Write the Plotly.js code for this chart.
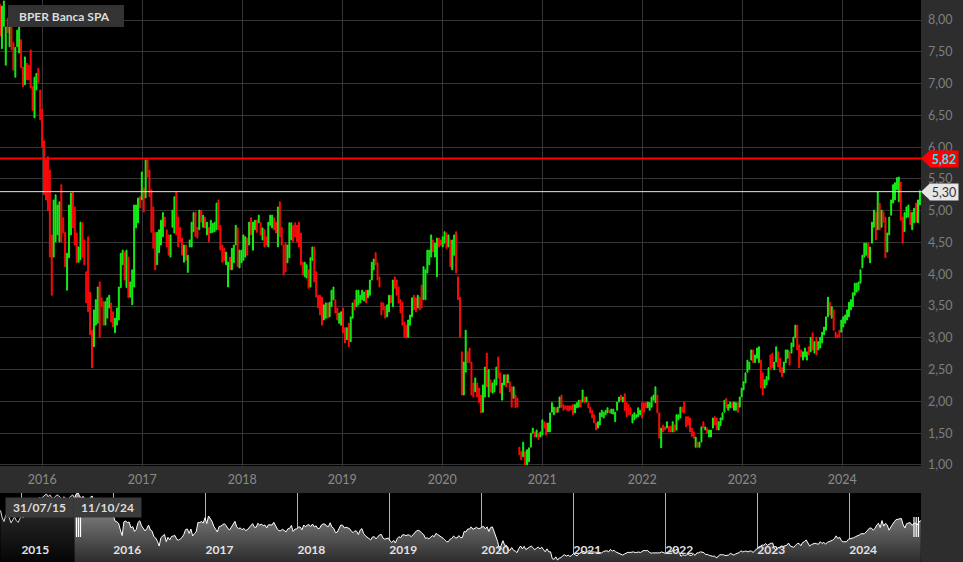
<!DOCTYPE html>
<html><head><meta charset="utf-8">
<script src="https://cdn.plot.ly/plotly-3.0.1.min.js"></script>
<style>html,body{margin:0;padding:0;background:#2d2d2d;overflow:hidden}#chart{width:963px;height:562px}</style>
</head><body><div id="chart"></div>
<script>
const chartTitle = 'BPER Banca SPA';
const firstWeek = '2015-07-31';
const open = [
8.25,7.55,7.90,7.29,8.03,7.58,7.89,7.65,7.10,7.58,
7.48,7.69,7.26,6.98,7.32,7.29,7.53,6.95,6.46,6.90,
7.24,6.90,6.60,6.10,5.80,5.85,5.64,4.62,4.27,4.51,
4.62,4.51,5.41,4.89,4.66,3.75,4.26,4.62,5.30,5.06,
4.65,4.19,4.23,4.81,4.54,4.04,4.59,3.72,3.12,2.86,
3.20,3.23,3.88,3.63,3.57,3.20,3.31,3.47,3.55,3.41,
3.08,3.20,3.28,3.79,4.15,4.35,3.79,4.27,3.64,3.52,
3.80,4.73,4.81,5.22,5.17,5.36,5.20,5.80,5.64,5.33,
5.06,4.66,4.15,4.34,4.46,4.59,4.90,4.70,4.62,4.27,
4.74,4.65,5.30,4.90,4.74,4.57,4.19,4.46,4.03,4.43,
4.43,4.67,4.98,4.74,4.70,5.01,4.74,4.90,4.62,4.74,
4.65,4.66,4.67,4.70,5.17,4.77,4.46,4.41,4.15,3.80,
4.27,4.07,4.18,4.46,4.73,4.10,4.18,4.22,4.27,4.57,
4.46,4.89,4.38,4.70,4.85,4.81,4.81,4.54,4.70,4.59,
4.43,4.77,4.73,4.89,4.82,4.43,5.14,4.74,4.46,4.49,
4.18,4.26,4.54,4.77,4.81,4.77,4.82,4.65,4.19,3.96,
3.94,4.07,3.80,4.22,4.43,4.04,3.67,
3.67,3.64,3.28,3.31,3.55,3.33,3.49,3.60,3.60,3.47,
3.23,3.20,3.47,3.16,2.97,3.23,2.94,3.31,3.60,3.49,
3.52,3.55,3.60,3.58,3.75,3.63,3.67,3.91,4.07,4.34,
4.18,3.96,3.56,3.55,3.49,3.33,3.41,3.67,3.49,3.96,
3.91,3.80,3.60,3.56,3.25,3.20,3.01,3.20,3.33,3.67,
3.63,3.47,3.64,3.83,3.60,3.60,4.02,4.15,4.27,4.54,
4.27,3.96,4.57,4.54,4.43,4.49,4.65,4.43,4.54,4.07,
4.30,4.67,3.96,3.64,
2.78,2.10,2.46,2.78,2.84,2.62,2.29,2.15,2.29,2.21,
2.10,1.83,2.07,2.76,2.07,2.34,2.13,2.15,2.26,2.70,
2.45,2.02,2.26,2.42,2.29,2.31,2.23,2.05,2.10,2.05,
1.28,1.21,1.13,1.21,1.00,1.05,1.28,1.50,1.52,1.44,
1.50,1.44,1.47,1.68,1.66,1.52,1.52,1.83,1.79,1.90,
1.83,1.90,2.10,1.95,1.93,1.93,1.93,1.93,1.95,1.82,
1.90,1.91,2.02,1.99,2.07,1.99,1.98,1.91,1.86,1.79,
1.66,1.58,1.63,1.76,1.74,1.79,1.82,1.86,1.81,1.80,
1.68,1.86,1.99,2.10,1.99,2.12,1.98,1.95,1.90,1.66,
1.71,1.74,1.76,1.79,1.98,1.98,1.98,1.90,1.86,1.91,
2.02,1.98,2.10,1.82,1.27,1.63,1.60,1.58,1.61,1.61,
1.52,1.63,1.55,1.71,1.74,1.91,1.99,1.76,1.76,1.74,
1.58,1.52,1.28,1.36,1.28,1.36,1.68,1.55,1.58,1.44,
1.44,1.58,1.76,1.74,1.55,1.62,
1.71,1.83,2.05,1.86,1.90,1.98,1.86,1.86,1.98,1.91,
2.07,2.18,2.29,2.46,2.50,2.65,2.81,2.61,2.68,2.61,
2.65,2.45,2.21,2.26,2.34,2.73,2.76,2.50,2.62,2.78,
2.68,2.53,2.45,2.61,2.68,2.78,2.76,2.86,3.00,3.20,
2.89,2.81,2.65,2.70,2.65,2.86,2.78,3.08,2.76,3.01,
2.81,2.84,2.92,3.05,3.12,3.33,3.56,3.31,3.44,3.09,
3.05,3.12,3.09,3.17,3.23,3.28,3.33,3.44,3.49,3.67,
3.72,3.75,3.86,4.10,4.27,4.30,4.49,4.18,4.49,4.74,
4.98,4.70,5.12,4.74,4.98,4.90,4.35,4.62,4.93,5.12,
5.17,5.33,5.14,5.45,4.90,4.67,4.89,4.90,4.98,4.70,
4.81,5.12,4.81,5.09];
const high = [
8.25,8.22,8.30,7.89,8.03,7.92,7.89,7.65,7.57,7.84,
7.97,7.69,7.26,7.42,7.32,7.29,7.53,6.95,7.10,7.16,
7.24,6.90,6.60,6.10,5.80,5.85,5.64,4.62,5.17,5.25,
5.09,5.14,5.41,4.89,4.66,4.33,5.09,5.28,5.30,5.06,
4.65,4.43,4.82,4.81,4.54,4.04,4.59,3.72,3.12,3.44,
3.60,3.80,3.88,3.63,3.57,3.57,3.63,3.67,3.55,3.41,
3.31,3.47,3.80,4.33,4.38,4.35,4.38,4.27,3.88,4.07,
5.09,5.09,5.20,5.22,5.61,5.36,5.80,5.80,5.64,5.33,
5.06,4.66,4.66,4.70,4.85,4.97,4.90,4.70,4.62,4.62,
5.01,5.22,5.30,4.90,4.74,4.57,4.46,4.46,4.30,4.54,
4.82,4.97,4.98,4.74,5.01,5.01,4.93,4.90,4.82,4.74,
4.85,4.80,4.82,5.12,5.17,4.77,4.46,4.41,4.35,4.19,
4.27,4.41,4.46,4.77,4.73,4.38,4.38,4.62,4.59,4.57,
4.82,4.89,4.82,4.85,4.85,4.93,4.81,4.73,4.70,4.59,
4.82,4.93,4.93,4.89,4.82,5.06,5.14,4.74,4.46,4.49,
4.46,4.81,4.81,4.77,4.81,4.77,4.82,4.65,4.19,4.19,
4.15,4.07,4.26,4.43,4.43,4.04,3.67,
3.67,3.64,3.52,3.55,3.55,3.56,3.75,3.80,3.60,3.47,
3.39,3.41,3.47,3.16,3.16,3.23,3.33,3.55,3.60,3.75,
3.75,3.67,3.75,3.72,3.75,3.75,3.91,4.19,4.24,4.34,
4.18,3.96,3.56,3.55,3.49,3.52,3.67,3.67,3.91,3.96,
3.91,3.80,3.60,3.56,3.25,3.20,3.28,3.36,3.63,3.67,
3.63,3.67,3.64,3.83,4.12,4.07,4.38,4.38,4.62,4.54,
4.49,4.57,4.57,4.54,4.59,4.67,4.65,4.62,4.54,4.54,
4.62,4.67,3.96,3.64,
2.78,2.62,3.12,2.78,2.84,2.62,2.29,2.37,2.29,2.21,
2.10,2.26,2.54,2.76,2.50,2.34,2.29,2.34,2.54,2.70,
2.45,2.29,2.42,2.42,2.42,2.31,2.23,2.23,2.10,2.05,
1.28,1.21,1.36,1.21,1.24,1.27,1.50,1.58,1.52,1.55,
1.50,1.52,1.71,1.68,1.66,1.66,1.82,1.98,1.91,1.90,
1.91,2.07,2.10,1.95,1.93,1.93,1.93,1.93,1.95,1.95,
1.98,2.02,2.02,2.18,2.07,2.07,1.98,1.91,1.86,1.79,
1.66,1.68,1.82,1.86,1.83,1.86,1.90,1.86,1.88,1.88,
1.83,1.99,2.07,2.10,2.07,2.12,1.98,1.95,1.90,1.79,
1.82,1.79,1.90,1.86,1.98,1.98,1.98,1.99,1.98,2.07,
2.10,2.23,2.10,1.82,1.58,1.63,1.60,1.68,1.61,1.61,
1.68,1.63,1.79,1.79,1.91,1.91,1.99,1.76,1.76,1.74,
1.58,1.52,1.44,1.36,1.36,1.60,1.68,1.60,1.58,1.55,
1.55,1.74,1.76,1.74,1.68,1.74,
1.82,2.02,2.05,1.95,1.99,1.98,1.99,1.98,1.98,2.07,
2.21,2.31,2.45,2.65,2.62,2.81,2.81,2.73,2.84,2.86,
2.65,2.45,2.34,2.39,2.53,2.73,2.76,2.62,2.86,2.78,
2.68,2.53,2.62,2.81,2.81,2.78,2.92,3.01,3.20,3.20,
2.89,2.81,2.78,2.84,2.78,2.86,3.01,3.08,2.94,3.01,
2.94,3.01,3.09,3.17,3.33,3.64,3.56,3.49,3.44,3.09,
3.05,3.12,3.28,3.33,3.36,3.44,3.56,3.60,3.71,3.86,
3.86,3.88,4.07,4.30,4.49,4.49,4.49,4.43,4.82,5.01,
4.98,5.30,5.12,5.01,4.98,4.90,4.65,4.90,5.17,5.41,
5.44,5.52,5.53,5.45,4.90,4.97,5.06,5.09,4.98,4.97,
5.04,5.12,5.17,5.33];
const low = [
7.75,7.55,7.90,7.29,7.80,7.58,7.53,7.21,7.10,7.58,
7.48,7.25,6.95,6.98,7.06,7.06,6.93,6.58,6.46,6.90,
7.02,6.43,6.00,5.25,5.17,5.00,4.27,3.67,4.27,4.51,
4.62,4.51,4.51,4.65,4.12,3.75,4.26,4.62,4.73,4.46,
4.18,4.19,4.23,4.27,4.15,3.55,3.41,3.05,2.53,2.86,
3.20,3.23,3.01,3.49,3.20,3.20,3.31,3.47,3.25,3.17,
3.08,3.20,3.28,3.79,4.15,3.91,3.79,3.63,3.64,3.52,
3.80,4.73,4.81,5.04,5.17,4.98,5.20,5.53,5.22,4.66,
4.41,4.07,4.15,4.34,4.46,4.59,4.75,4.43,4.30,4.27,
4.74,4.65,4.62,4.43,4.51,4.30,4.19,4.22,4.03,4.43,
4.43,4.67,4.59,4.57,4.70,4.82,4.74,4.73,4.62,4.51,
4.65,4.66,4.67,4.70,4.70,4.38,4.19,4.22,4.15,3.80,
4.07,4.07,4.18,4.46,4.12,4.10,4.18,4.22,4.27,4.30,
4.46,4.62,4.38,4.70,4.66,4.81,4.62,4.54,4.43,4.46,
4.43,4.77,4.73,4.70,4.65,4.43,4.59,4.46,3.99,4.04,
4.18,4.26,4.54,4.51,4.59,4.51,4.43,4.15,3.99,3.96,
3.94,3.78,3.80,4.22,3.88,3.64,3.47,
3.36,3.20,3.28,3.31,3.31,3.33,3.49,3.60,3.39,3.28,
3.23,3.20,3.08,2.92,2.97,2.86,2.94,3.31,3.44,3.49,
3.52,3.55,3.60,3.58,3.55,3.63,3.67,3.91,4.07,4.15,
3.91,3.80,3.36,3.44,3.31,3.33,3.41,3.55,3.49,3.78,
3.67,3.55,3.39,3.20,3.01,3.00,3.01,3.20,3.33,3.44,
3.41,3.47,3.44,3.47,3.60,3.60,4.02,4.15,4.27,4.35,
4.27,3.96,4.43,4.46,4.43,4.49,4.41,4.43,4.12,4.07,
4.30,4.02,3.60,3.01,
2.10,2.10,2.46,2.61,2.61,2.10,2.07,2.15,2.07,1.98,
1.82,1.83,2.07,2.23,2.07,2.15,2.13,2.15,2.26,2.37,
2.13,2.02,2.26,2.23,2.29,2.15,1.91,2.05,1.90,1.91,
1.16,1.08,1.13,1.00,1.00,1.05,1.28,1.50,1.44,1.44,
1.40,1.44,1.47,1.58,1.47,1.52,1.52,1.83,1.79,1.82,
1.83,1.90,1.91,1.86,1.88,1.86,1.85,1.87,1.79,1.82,
1.90,1.91,1.91,1.99,1.98,1.99,1.90,1.82,1.74,1.66,
1.55,1.58,1.63,1.76,1.74,1.79,1.82,1.82,1.81,1.80,
1.68,1.86,1.99,2.02,1.99,1.86,1.76,1.79,1.79,1.66,
1.71,1.74,1.76,1.79,1.74,1.83,1.90,1.90,1.86,1.91,
2.02,1.98,1.82,1.42,1.27,1.52,1.55,1.58,1.52,1.52,
1.52,1.52,1.55,1.71,1.74,1.83,1.82,1.60,1.63,1.52,
1.45,1.42,1.28,1.27,1.28,1.36,1.58,1.55,1.50,1.44,
1.44,1.58,1.63,1.55,1.55,1.62,
1.71,1.83,1.90,1.86,1.90,1.90,1.86,1.86,1.83,1.91,
2.07,2.18,2.29,2.46,2.50,2.65,2.61,2.61,2.68,2.61,
2.21,2.10,2.21,2.26,2.34,2.50,2.53,2.50,2.62,2.54,
2.46,2.39,2.45,2.61,2.68,2.57,2.76,2.86,3.00,2.81,
2.53,2.70,2.65,2.70,2.65,2.73,2.78,2.81,2.76,2.73,
2.81,2.84,2.92,3.05,3.12,3.33,3.36,3.31,3.12,3.00,
3.00,3.01,3.09,3.17,3.23,3.28,3.33,3.44,3.49,3.67,
3.72,3.75,3.86,4.10,4.27,4.30,4.26,4.18,4.49,4.74,
4.54,4.70,4.70,4.74,4.82,4.26,4.35,4.62,4.93,5.12,
5.17,5.33,5.14,4.85,4.49,4.67,4.89,4.90,4.78,4.70,
4.81,4.82,4.81,5.09];
const close = [
7.75,8.22,8.30,7.89,7.80,7.92,7.53,7.21,7.57,7.84,
7.97,7.25,6.95,7.42,7.06,7.06,6.93,6.58,7.10,7.16,
7.02,6.43,6.00,5.25,5.17,5.00,4.27,3.67,5.17,5.25,
5.09,5.14,4.51,4.65,4.12,4.33,5.09,5.28,4.73,4.46,
4.18,4.43,4.82,4.27,4.15,3.55,3.41,3.05,2.53,3.44,
3.60,3.80,3.01,3.49,3.20,3.57,3.63,3.67,3.25,3.17,
3.31,3.47,3.80,4.33,4.38,3.91,4.38,3.63,3.88,4.07,
5.09,5.09,5.20,5.04,5.61,4.98,5.80,5.53,5.22,4.66,
4.41,4.07,4.66,4.70,4.85,4.97,4.75,4.43,4.30,4.62,
5.01,5.22,4.62,4.43,4.51,4.30,4.46,4.22,4.30,4.54,
4.82,4.97,4.59,4.57,5.01,4.82,4.93,4.73,4.82,4.51,
4.85,4.80,4.82,5.12,4.70,4.38,4.19,4.22,4.35,4.19,
4.07,4.41,4.46,4.77,4.12,4.38,4.38,4.62,4.59,4.30,
4.82,4.62,4.82,4.85,4.66,4.93,4.62,4.73,4.43,4.46,
4.82,4.93,4.93,4.70,4.65,5.06,4.59,4.46,3.99,4.04,
4.46,4.81,4.81,4.51,4.59,4.51,4.43,4.15,3.99,4.19,
4.15,3.78,4.26,4.43,3.88,3.64,3.47,
3.36,3.20,3.52,3.55,3.31,3.56,3.75,3.80,3.39,3.28,
3.39,3.41,3.08,2.92,3.16,2.86,3.33,3.55,3.44,3.75,
3.75,3.67,3.75,3.72,3.55,3.75,3.91,4.19,4.24,4.15,
3.91,3.80,3.36,3.44,3.31,3.52,3.67,3.55,3.91,3.78,
3.67,3.55,3.39,3.20,3.01,3.00,3.28,3.36,3.63,3.44,
3.41,3.67,3.44,3.47,4.12,4.07,4.38,4.38,4.62,4.35,
4.49,4.57,4.43,4.46,4.59,4.67,4.41,4.62,4.12,4.54,
4.62,4.02,3.60,3.01,
2.10,2.62,3.12,2.61,2.61,2.10,2.07,2.37,2.07,1.98,
1.82,2.26,2.54,2.23,2.50,2.15,2.29,2.34,2.54,2.37,
2.13,2.29,2.42,2.23,2.42,2.15,1.91,2.23,1.90,1.91,
1.16,1.08,1.36,1.00,1.24,1.27,1.50,1.58,1.44,1.55,
1.40,1.52,1.71,1.58,1.47,1.66,1.82,1.98,1.91,1.82,
1.91,2.07,1.91,1.86,1.88,1.86,1.85,1.87,1.79,1.95,
1.98,2.02,1.91,2.18,1.98,2.07,1.90,1.82,1.74,1.66,
1.55,1.68,1.82,1.86,1.83,1.86,1.90,1.82,1.88,1.88,
1.83,1.99,2.07,2.02,2.07,1.86,1.76,1.79,1.79,1.79,
1.82,1.79,1.90,1.86,1.74,1.83,1.90,1.99,1.98,2.07,
2.10,2.23,1.82,1.42,1.58,1.52,1.55,1.68,1.52,1.52,
1.68,1.52,1.79,1.79,1.91,1.83,1.82,1.60,1.63,1.52,
1.45,1.42,1.44,1.27,1.36,1.60,1.58,1.60,1.50,1.55,
1.55,1.74,1.63,1.55,1.68,1.74,
1.82,2.02,1.90,1.95,1.99,1.90,1.99,1.98,1.83,2.07,
2.21,2.31,2.45,2.65,2.62,2.81,2.61,2.73,2.84,2.86,
2.21,2.10,2.34,2.39,2.53,2.50,2.53,2.62,2.86,2.54,
2.46,2.39,2.62,2.81,2.81,2.57,2.92,3.01,3.20,2.81,
2.53,2.70,2.78,2.84,2.78,2.73,3.01,2.81,2.94,2.73,
2.94,3.01,3.09,3.17,3.33,3.64,3.36,3.49,3.12,3.00,
3.00,3.01,3.28,3.33,3.36,3.44,3.56,3.60,3.71,3.86,
3.86,3.88,4.07,4.30,4.49,4.49,4.26,4.43,4.82,5.01,
4.54,5.30,4.70,5.01,4.82,4.26,4.65,4.90,5.17,5.41,
5.44,5.52,5.53,4.85,4.49,4.97,5.06,5.09,4.78,4.97,
5.04,4.82,5.17,5.30];

// navigator: weekly closes before the displayed window
const navFirstWeek = '2014-10-10';
const navPreClose = [6.40,5.60,5.20,5.90,6.10,5.50,5.05,5.40,5.70,5.30,
5.10,5.50,5.80,5.60,5.90,6.30,6.20,6.60,6.90,7.10,
7.30,7.50,7.80,7.70,7.90,8.00,8.20,7.90,8.10,7.80,
7.70,7.90,8.10,8.00,7.80,7.60,7.90,7.70,7.50,7.80,
8.00,8.10];

const yearTicks = ['2016-01-01','2017-01-01','2018-01-01','2019-01-01','2020-01-01','2021-01-01','2022-01-01','2023-01-01','2024-01-01'];
const yearLabels = ['2016','2017','2018','2019','2020','2021','2022','2023','2024'];
const navYearTicks = ['2015-01-01','2016-01-01','2017-01-01','2018-01-01','2019-01-01','2020-01-01','2021-01-01','2022-01-01','2023-01-01','2024-01-01'];
const navYearLabels = ['2015','2016','2017','2018','2019','2020','2021','2022','2023','2024'];
const resistanceLevel = 5.82;
const resistanceLabel = '5,82';
const lastPrice = 5.30;
const lastPriceLabel = '5,30';
const windowStartLabel = '31/07/15';
const windowEndLabel = '11/10/24';

function weeklyDates(startIso, n) {
  const t0 = Date.parse(startIso + 'T00:00:00Z');
  const out = [];
  for (let i = 0; i < n; i++) out.push(new Date(t0 + i * 7 * 86400000).toISOString().slice(0, 10));
  return out;
}
const dates = weeklyDates(firstWeek, close.length);
const preDates = weeklyDates(navFirstWeek, navPreClose.length);

const W = 921, H = 562;
const px = x => x / W;
const py = y => 1 - y / H;

const FONT = 'Lato, "Open Sans", sans-serif';
const GREEN = '#16ee16', RED = '#ff0a0a';

const traces = [
  {
    type: 'candlestick', x: dates, open: open, high: high, low: low, close: close,
    xaxis: 'x', yaxis: 'y', whiskerwidth: 0, hoverinfo: 'skip',
    increasing: {line: {color: GREEN, width: 1}, fillcolor: GREEN},
    decreasing: {line: {color: RED, width: 1}, fillcolor: RED}
  },
  {
    type: 'scatter', mode: 'lines', x: preDates.concat([dates[0]]), y: navPreClose.concat([close[0]]),
    xaxis: 'x2', yaxis: 'y2', line: {color: '#d8d8d8', width: 1}, fill: 'tozeroy',
    fillgradient: {type: 'vertical', start: 0.8, stop: 8.3, colorscale: [[0, '#050505'], [1, '#333333']]},
    hoverinfo: 'skip'
  },
  {
    type: 'scatter', mode: 'lines', x: dates, y: close,
    xaxis: 'x2', yaxis: 'y2', line: {color: '#ffffff', width: 1}, fill: 'tozeroy',
    fillgradient: {type: 'vertical', start: 0.8, stop: 8.3, colorscale: [[0, '#2c2c2c'], [1, '#9a9a9a']]},
    hoverinfo: 'skip'
  }
];

function handle(xs) {
  return xs.map(x => ({type: 'line', xref: 'paper', yref: 'paper', x0: px(x), x1: px(x), y0: py(517), y1: py(537),
    line: {color: '#ffffff', width: 1.2}, layer: 'above'}));
}

const layout = {
  width: 963, height: 562,
  margin: {l: 0, r: 42, t: 0, b: 0, pad: 0},
  paper_bgcolor: '#2d2d2d', plot_bgcolor: '#000000',
  separators: ',.',
  showlegend: false, hovermode: false, dragmode: false,
  font: {family: FONT, color: '#888888'},
  xaxis: {
    type: 'date', anchor: 'y', domain: [0, 1], range: ['2015-07-31', '2024-10-15'],
    tickmode: 'array', tickvals: yearTicks, ticktext: yearLabels,
    showgrid: true, gridcolor: '#363636', gridwidth: 1, zeroline: false, showline: false, ticks: '',
    tickfont: {family: FONT, size: 12.5, color: '#8a8a8a'}, ticklabelstandoff: 4,
    rangeslider: {visible: false}, fixedrange: true
  },
  yaxis: {
    anchor: 'x', domain: [1 - 466 / H, 1], range: [0.984, 8.315], side: 'right',
    tick0: 0, dtick: 0.5, tickformat: '.2f',
    showgrid: true, gridcolor: '#363636', gridwidth: 1, zeroline: false, showline: false, ticks: '',
    tickfont: {family: FONT, size: 12.5, color: '#7d7d7d'}, ticklabelstandoff: 6, fixedrange: true
  },
  xaxis2: {
    type: 'date', anchor: 'y2', domain: [0, 1], range: ['2014-10-08', '2024-10-12'],
    tickmode: 'array', tickvals: navYearTicks, ticktext: navYearLabels,
    showgrid: true, gridcolor: '#b4b4b4', gridwidth: 1, zeroline: false, showline: false, ticks: '',
    ticklabelposition: 'inside right',
    tickfont: {family: FONT, size: 12, color: '#e2e2e2', weight: 'bold'}, fixedrange: true
  },
  yaxis2: {
    anchor: 'x2', domain: [0, 69 / H], range: [0.8, 8.3],
    showgrid: false, zeroline: false, showline: false, showticklabels: false, ticks: '', fixedrange: true
  },
  shapes: [
    {type: 'line', xref: 'paper', x0: 0, x1: 1, yref: 'y', y0: resistanceLevel, y1: resistanceLevel,
      line: {color: '#ff0000', width: 2}, layer: 'above'},
    {type: 'line', xref: 'paper', x0: 0, x1: 1, yref: 'y', y0: lastPrice, y1: lastPrice,
      line: {color: '#e6e6e6', width: 1}, layer: 'above'},
    {type: 'path', xref: 'paper', xsizemode: 'pixel', xanchor: 1, yref: 'y', ysizemode: 'pixel', yanchor: resistanceLevel,
      path: 'M0,0 L9,8.5 L9,-8.5 Z', fillcolor: '#ff0000', line: {width: 0}, layer: 'above'},
    {type: 'path', xref: 'paper', xsizemode: 'pixel', xanchor: 1, yref: 'y', ysizemode: 'pixel', yanchor: lastPrice,
      path: 'M0,0 L9,8.5 L9,-8.5 Z', fillcolor: '#e6e6e6', line: {width: 0}, layer: 'above'},
    {type: 'rect', xref: 'paper', yref: 'paper', x0: px(8), x1: px(124), y0: py(27), y1: py(5),
      fillcolor: '#333333', line: {width: 0}, layer: 'above'}
  ].concat(handle([76.5, 78.5, 80.5])).concat(handle([914, 916.2, 918.4])),
  annotations: [
    {xref: 'paper', yref: 'paper', x: px(17), y: py(16), xanchor: 'left', yanchor: 'middle', showarrow: false,
      text: chartTitle, font: {family: FONT, size: 12, color: '#dcdcdc', weight: 'bold'}},
    {xref: 'paper', yref: 'y', x: 1, y: resistanceLevel, xanchor: 'left', yanchor: 'middle', xshift: 8, showarrow: false,
      text: resistanceLabel, bgcolor: '#ff0000', width: 28, height: 16, borderpad: 0,
      font: {family: FONT, size: 12.5, color: '#22e4f2', weight: 'bold'}},
    {xref: 'paper', yref: 'y', x: 1, y: lastPrice, xanchor: 'left', yanchor: 'middle', xshift: 8, showarrow: false,
      text: lastPriceLabel, bgcolor: '#e6e6e6', width: 28, height: 16, borderpad: 0,
      font: {family: FONT, size: 12.5, color: '#333333'}},
    {xref: 'paper', yref: 'paper', x: px(39.5), y: py(507.5), xanchor: 'center', yanchor: 'middle', showarrow: false,
      text: windowStartLabel, bgcolor: '#3b3b3b', width: 67, height: 19, borderpad: 0,
      font: {family: FONT, size: 12, color: '#dddddd', weight: 'bold'}},
    {xref: 'paper', yref: 'paper', x: px(107), y: py(507.5), xanchor: 'center', yanchor: 'middle', showarrow: false,
      text: windowEndLabel, bgcolor: '#3b3b3b', width: 67, height: 19, borderpad: 0,
      font: {family: FONT, size: 12, color: '#dddddd', weight: 'bold'}}
  ]
};

Plotly.newPlot('chart', traces, layout, {staticPlot: true, displayModeBar: false});
</script>
</body></html>
